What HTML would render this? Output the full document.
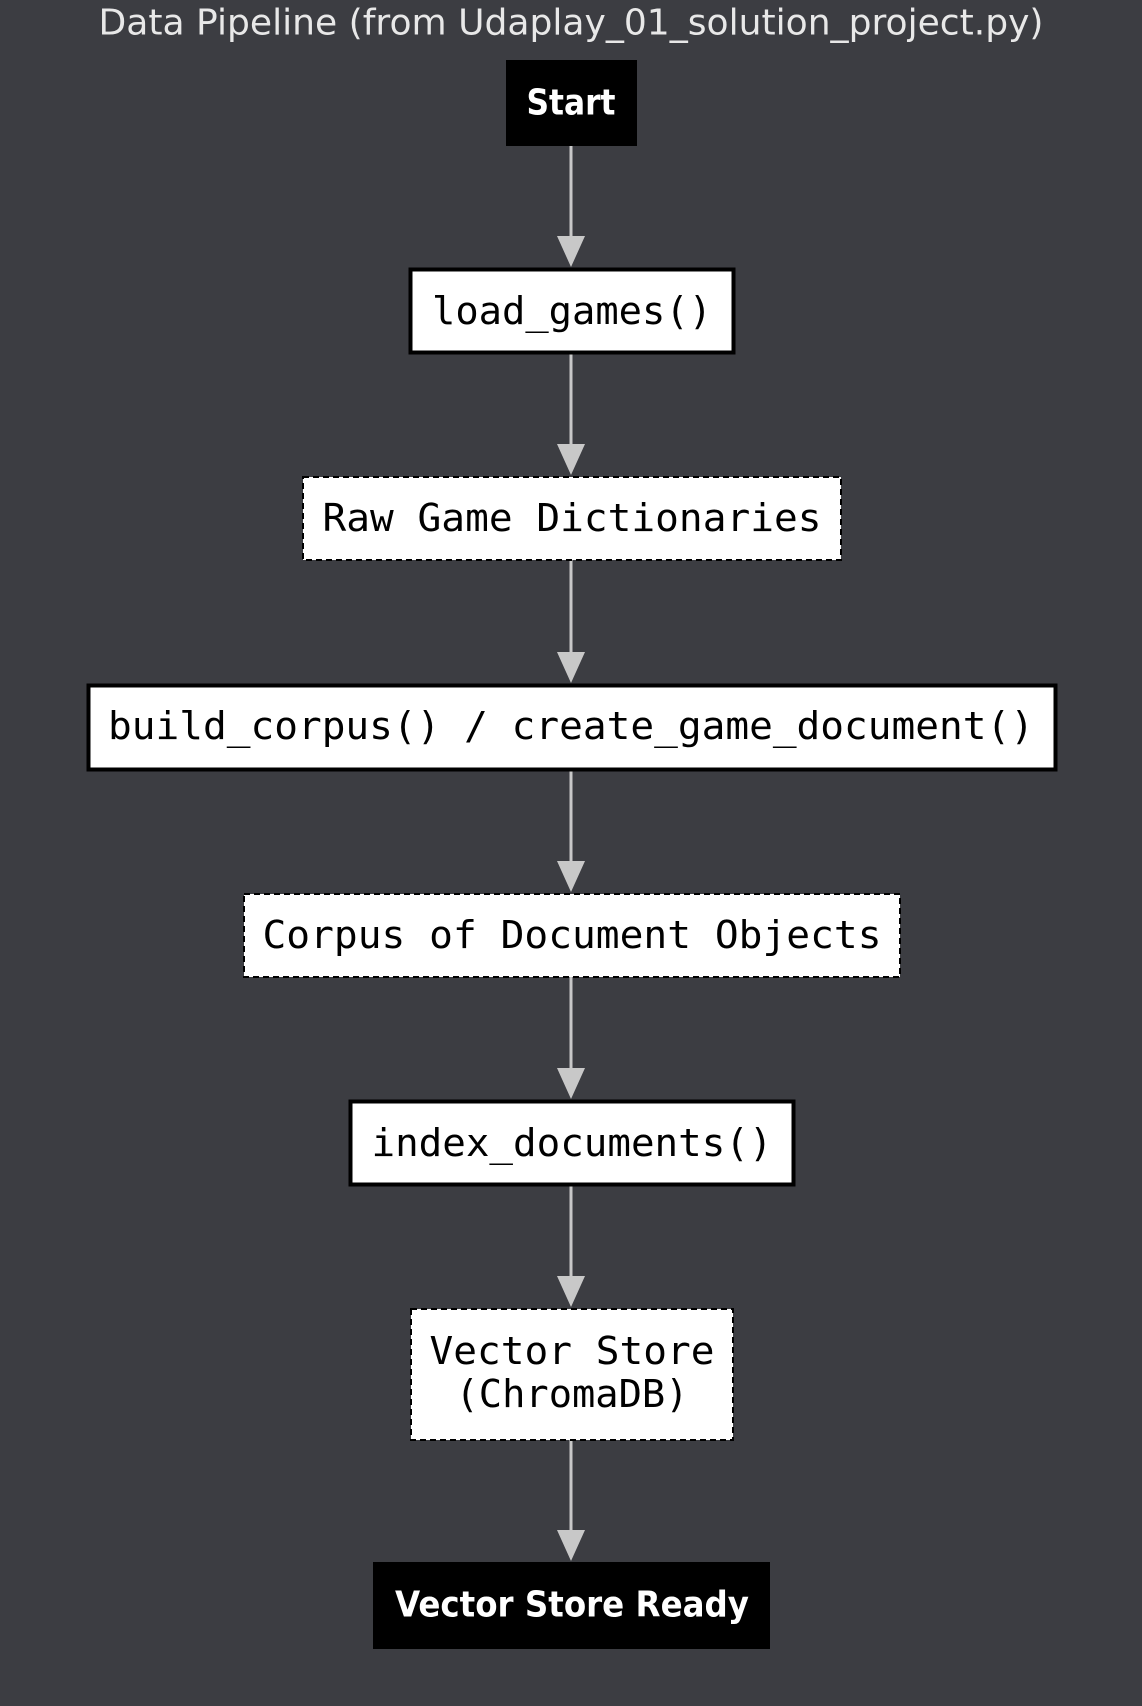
<!DOCTYPE html>
<html><head><meta charset="utf-8"><style>
html,body{margin:0;padding:0;background:#3c3d42;}
svg{display:block}
.m{font-family:"DejaVu Sans Mono","Liberation Mono",monospace;font-size:38px;fill:#000}
.b{font-family:"DejaVu Sans","Liberation Sans",sans-serif;font-weight:bold;font-size:36px;fill:#fff}
</style></head><body>
<svg width="1142" height="1706" viewBox="0 0 1142 1706" xmlns="http://www.w3.org/2000/svg">
<rect width="1142" height="1706" fill="#3c3d42"/>
<text x="571" y="23" text-anchor="middle" dominant-baseline="central" font-family="DejaVu Sans,Liberation Sans,sans-serif" font-size="36" fill="#e8e8e8" textLength="945" lengthAdjust="spacingAndGlyphs">Data Pipeline (from Udaplay_01_solution_project.py)</text>
<g stroke="#c8c8c8" stroke-width="3" fill="#c8c8c8">
<line x1="571" y1="146" x2="571" y2="240"/><path d="M557 236 L585 236 L571 267 Z" stroke="none"/>
<line x1="571" y1="353" x2="571" y2="448"/><path d="M557 444 L585 444 L571 475 Z" stroke="none"/>
<line x1="571" y1="560" x2="571" y2="656"/><path d="M557 652 L585 652 L571 683 Z" stroke="none"/>
<line x1="571" y1="770" x2="571" y2="865"/><path d="M557 861 L585 861 L571 892 Z" stroke="none"/>
<line x1="571" y1="977" x2="571" y2="1072"/><path d="M557 1068 L585 1068 L571 1099 Z" stroke="none"/>
<line x1="571" y1="1185" x2="571" y2="1280"/><path d="M557 1276 L585 1276 L571 1307 Z" stroke="none"/>
<line x1="571" y1="1440" x2="571" y2="1534"/><path d="M557 1530 L585 1530 L571 1561 Z" stroke="none"/>
</g>
<rect x="506" y="60" width="131" height="86" fill="#000"/>
<text class="b" x="571" y="103" text-anchor="middle" dominant-baseline="central" textLength="89" lengthAdjust="spacingAndGlyphs">Start</text>
<rect x="410.5" y="269.5" width="323" height="83" fill="#fff" stroke="#000" stroke-width="4"/>
<text class="m" x="572" y="311" text-anchor="middle" dominant-baseline="central" textLength="280" lengthAdjust="spacingAndGlyphs">load_games()</text>
<rect x="303" y="477" width="538" height="83" fill="#fff" stroke="#000" stroke-width="2" stroke-dasharray="6 4"/>
<text class="m" x="572" y="518" text-anchor="middle" dominant-baseline="central" textLength="499" lengthAdjust="spacingAndGlyphs">Raw Game Dictionaries</text>
<rect x="88.5" y="685.5" width="967" height="84" fill="#fff" stroke="#000" stroke-width="4"/>
<text class="m" x="571" y="726" text-anchor="middle" dominant-baseline="central" textLength="926" lengthAdjust="spacingAndGlyphs">build_corpus() / create_game_document()</text>
<rect x="244" y="894" width="656" height="83" fill="#fff" stroke="#000" stroke-width="2" stroke-dasharray="6 4"/>
<text class="m" x="572" y="935" text-anchor="middle" dominant-baseline="central" textLength="619" lengthAdjust="spacingAndGlyphs">Corpus of Document Objects</text>
<rect x="350.5" y="1101.5" width="443" height="83" fill="#fff" stroke="#000" stroke-width="4"/>
<text class="m" x="572" y="1143" text-anchor="middle" dominant-baseline="central" textLength="401" lengthAdjust="spacingAndGlyphs">index_documents()</text>
<rect x="411" y="1309" width="322" height="131" fill="#fff" stroke="#000" stroke-width="2" stroke-dasharray="6 4"/>
<text class="m" x="572" y="1351" text-anchor="middle" dominant-baseline="central" textLength="285" lengthAdjust="spacingAndGlyphs">Vector Store</text>
<text class="m" x="572" y="1394" text-anchor="middle" dominant-baseline="central" textLength="233" lengthAdjust="spacingAndGlyphs">(ChromaDB)</text>
<rect x="373" y="1562" width="397" height="87" fill="#000"/>
<text class="b" x="572" y="1605" text-anchor="middle" dominant-baseline="central" textLength="354" lengthAdjust="spacingAndGlyphs">Vector Store Ready</text>
</svg>
</body></html>
